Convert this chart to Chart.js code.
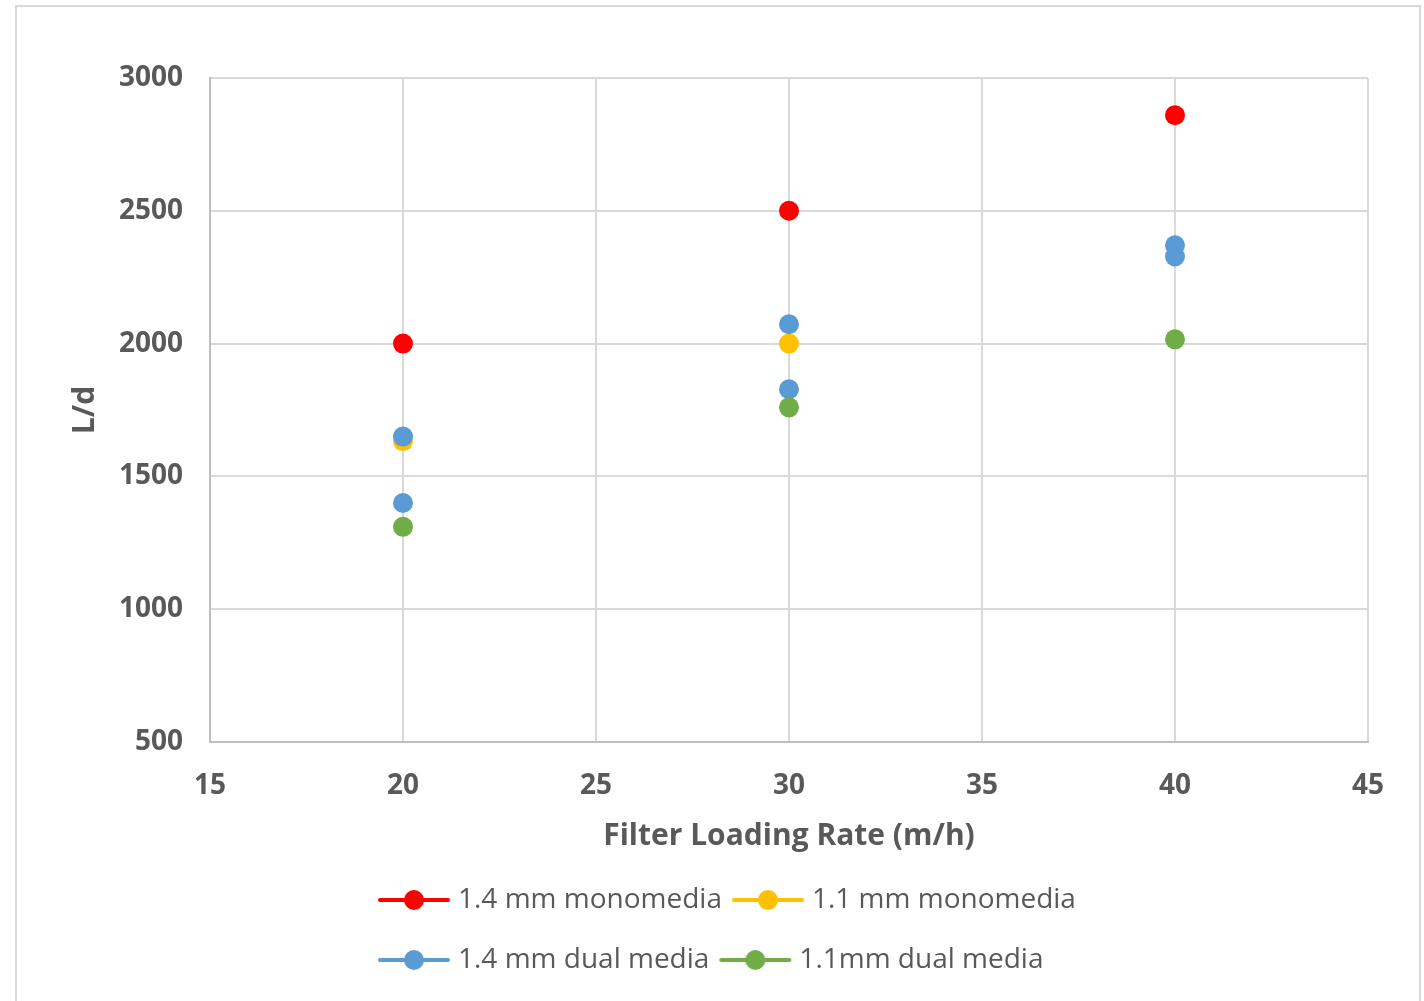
<!DOCTYPE html>
<html>
<head>
<meta charset="utf-8">
<script src="https://cdn.jsdelivr.net/npm/chart.js@4/dist/chart.umd.min.js"></script>
<style>
  html, body { margin: 0; padding: 0; background: #ffffff; }
  #wrap { position: relative; width: 1424px; height: 1001px; }
</style>
</head>
<body>
<div id="wrap"><canvas id="c" width="1424" height="1001"></canvas></div>
<script>
// ---- data ----
const seriesNames = ['1.4 mm monomedia', '1.1 mm monomedia', '1.4 mm dual media', '1.1mm dual media'];
const seriesColors = ['#FF0000', '#FFC000', '#5B9BD5', '#70AD47'];

const mono14X = [20, 30, 40];
const mono14Y = [2000, 2500, 2860];
const mono11X = [20, 30];
const mono11Y = [1633, 2000];
const dual14X = [20, 20, 30, 30, 40, 40];
const dual14Y = [1650, 1400, 2073, 1828, 2370, 2328];
const dual11X = [20, 30, 40];
const dual11Y = [1310, 1760, 2016];

const xTicks = [15, 20, 25, 30, 35, 40, 45];
const yTicks = [500, 1000, 1500, 2000, 2500, 3000];

const xTitle = 'Filter Loading Rate (m/h)';
const yTitle = 'L/d';

function pts(xs, ys) { return xs.map((x, i) => ({ x: x, y: ys[i] })); }

const seriesX = [mono14X, mono11X, dual14X, dual11X];
const seriesY = [mono14Y, mono11Y, dual14Y, dual11Y];

const TEXT = '#595959';
const GRID = '#d9d9d9';
const FONT = "'Open Sans', 'DejaVu Sans', sans-serif";

// legend icon: line with a dot; wider than the legend box so the item gap stays tight
function legendIcon(color) {
  const c = document.createElement('canvas');
  c.width = 100; c.height = 24;
  const g = c.getContext('2d');
  g.strokeStyle = color; g.lineWidth = 4; g.lineCap = 'round';
  g.beginPath(); g.moveTo(8, 12); g.lineTo(76, 12); g.stroke();
  g.fillStyle = color;
  g.beginPath(); g.arc(42, 12, 10, 0, Math.PI * 2); g.fill();
  return c;
}

const datasets = seriesNames.map((name, i) => ({
  label: name,
  data: pts(seriesX[i], seriesY[i]),
  showLine: false,
  backgroundColor: seriesColors[i],
  borderColor: seriesColors[i],
  pointRadius: 10,
  pointHoverRadius: 10,
  pointBorderWidth: 0,
  order: seriesNames.length - i
}));

const outerBox = {
  id: 'outerBox',
  beforeDraw(chart) {
    const ctx = chart.ctx;
    ctx.save();
    ctx.strokeStyle = GRID;
    ctx.lineWidth = 2;
    ctx.strokeRect(16, 6, 1404, 1100);
    ctx.restore();
  }
};

const LEGEND_W = 800;
const LEGEND_LEFT = 368;
const legendWrap = {
  id: 'legendWrap',
  afterInit(chart) {
    const lg = chart.legend;
    if (!lg) return;
    const origFit = lg._fitRows;
    lg._fitRows = function () {
      const mw = this.maxWidth;
      this.maxWidth = LEGEND_W;
      const r = origFit.apply(this, arguments);
      this.maxWidth = mw;
      return r;
    };
    const origDraw = lg.draw;
    lg.draw = function () {
      const l = this.left, r = this.right;
      this.left = LEGEND_LEFT; this.right = LEGEND_LEFT + LEGEND_W;
      origDraw.apply(this, arguments);
      this.left = l; this.right = r;
    };
  }
};

new Chart(document.getElementById('c'), {
  type: 'scatter',
  data: { datasets: datasets },
  options: {
    responsive: false,
    animation: false,
    layout: { padding: { left: 40, right: 56, top: 78, bottom: 17 } },
    scales: {
      x: {
        type: 'linear',
        min: xTicks[0], max: xTicks[xTicks.length - 1],
        afterBuildTicks(s) { s.ticks = xTicks.map(v => ({ value: v })); },
        afterFit(s) { s.height = 112; },
        grid: { color: GRID, lineWidth: 2, drawTicks: false },
        border: { color: '#bfbfbf', width: 2 },
        ticks: { color: TEXT, padding: 27, font: { family: FONT, size: 28, weight: 'bold' },
                 callback: v => String(v) },
        title: { display: true, text: xTitle, color: TEXT, padding: { top: 0, bottom: 0 },
                 font: { family: FONT, size: 30, weight: 'bold' } }
      },
      y: {
        type: 'linear',
        min: yTicks[0], max: yTicks[yTicks.length - 1],
        afterBuildTicks(s) { s.ticks = yTicks.map(v => ({ value: v })); },
        afterFit(s) { s.width = 170; },
        grid: { color: GRID, lineWidth: 2, drawTicks: false },
        border: { color: '#bfbfbf', width: 2 },
        ticks: { color: TEXT, padding: 27, font: { family: FONT, size: 28, weight: 'bold' },
                 callback: v => String(v) },
        title: { display: true, text: yTitle, color: TEXT, padding: { top: 27, bottom: 0 },
                 font: { family: FONT, size: 30, weight: 'bold' } }
      }
    },
    plugins: {
      tooltip: { enabled: false },
      legend: {
        position: 'bottom',
        align: 'start',
        labels: {
          usePointStyle: true,
          pointStyleWidth: 44,
          padding: 32,
          color: TEXT,
          font: { family: FONT, size: 28 },
          generateLabels(chart) {
            return chart.data.datasets.map((ds, i) => ({
              text: ds.label,
              fillStyle: ds.backgroundColor,
              strokeStyle: ds.borderColor,
              lineWidth: 0,
              pointStyle: legendIcon(ds.backgroundColor),
              hidden: !chart.isDatasetVisible(i),
              datasetIndex: i,
              fontColor: TEXT
            }));
          }
        }
      }
    }
  },
  plugins: [outerBox, legendWrap]
});
</script>
</body>
</html>
